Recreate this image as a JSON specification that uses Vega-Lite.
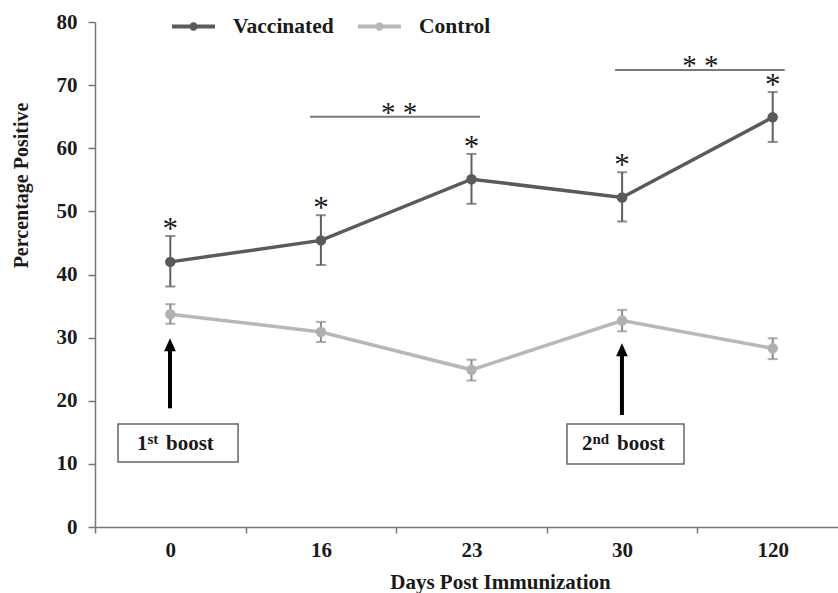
{
  "$schema": "https://vega.github.io/schema/vega-lite/v6.json",
  "width": 743,
  "height": 505,
  "autosize": {"type": "none"},
  "padding": {"left": 95, "top": 22, "right": 0, "bottom": 66},
  "background": "white",
  "config": {"view": {"stroke": null}, "font": "Liberation Serif"},
  "datasets": {
    "main": [
      {"day": 0, "group": "Vaccinated", "mean": 42.0, "lo": 38.1, "hi": 46.1},
      {"day": 16, "group": "Vaccinated", "mean": 45.4, "lo": 41.5, "hi": 49.4},
      {"day": 23, "group": "Vaccinated", "mean": 55.1, "lo": 51.2, "hi": 59.1},
      {"day": 30, "group": "Vaccinated", "mean": 52.2, "lo": 48.4, "hi": 56.2},
      {"day": 120, "group": "Vaccinated", "mean": 64.9, "lo": 61.0, "hi": 68.9},
      {"day": 0, "group": "Control", "mean": 33.7, "lo": 32.2, "hi": 35.3},
      {"day": 16, "group": "Control", "mean": 30.9, "lo": 29.3, "hi": 32.5},
      {"day": 23, "group": "Control", "mean": 24.9, "lo": 23.2, "hi": 26.5},
      {"day": 30, "group": "Control", "mean": 32.7, "lo": 31.0, "hi": 34.4},
      {"day": 120, "group": "Control", "mean": 28.3, "lo": 26.6, "hi": 29.9}
    ],
    "sig": [
      {"x1": 1.428, "x2": 2.556, "xm": 2.02, "y": 65.0},
      {"x1": 3.453, "x2": 4.58, "xm": 4.02, "y": 72.4}
    ],
    "arrows": [
      {"x": 0.498, "y1": 18.8, "y2": 28.86},
      {"x": 3.499, "y1": 17.74, "y2": 28.07}
    ],
    "boxes": [
      {"x1": 0.153, "x2": 0.95, "y1": 10.3, "y2": 16.32},
      {"x1": 3.134, "x2": 3.911, "y1": 10.0, "y2": 16.32}
    ],
    "boxtext": [
      {"x": 0.2789, "y": 12.2, "t": "1", "k": "main"},
      {"x": 0.3486, "y": 13.1, "t": "st", "k": "sup"},
      {"x": 0.4714, "y": 12.2, "t": "boost", "k": "main"},
      {"x": 3.2337, "y": 12.2, "t": "2", "k": "main"},
      {"x": 3.3035, "y": 13.1, "t": "nd", "k": "sup"},
      {"x": 3.4661, "y": 12.2, "t": "boost", "k": "main"}
    ]
  },
  "layer": [
    {
      "data": {"name": "main"},
      "layer": [
        {
          "mark": {"type": "rule", "strokeWidth": 2},
          "encoding": {
            "x": {"field": "day", "type": "ordinal", "scale": {"type": "band", "range": [0, 753], "paddingInner": 0, "paddingOuter": 0},
              "axis": {"title": "Days Post Immunization", "titleFont": "Liberation Serif", "titleFontSize": 21, "titleFontWeight": "bold", "titleColor": "#1a1a1a", "titleX": 405, "titleY": 61, "titleBaseline": "alphabetic",
                "labelAngle": 0, "labelFont": "Liberation Serif", "labelFontSize": 21, "labelFontWeight": "bold", "labelColor": "#1a1a1a", "labelPadding": 6,
                "tickBand": "extent", "tickSize": 6, "tickColor": "#777777", "tickWidth": 1.5, "domainColor": "#777777", "domainWidth": 1.5, "grid": false}},
            "y": {"field": "lo", "type": "quantitative", "scale": {"domain": [0, 80], "nice": false},
              "axis": {"title": "Percentage Positive", "titleFont": "Liberation Serif", "titleFontSize": 20, "titleFontWeight": "bold", "titleColor": "#1a1a1a", "titleX": -68, "titleY": 163, "titleBaseline": "alphabetic",
                "values": [0, 10, 20, 30, 40, 50, 60, 70, 80], "labelFont": "Liberation Serif", "labelFontSize": 21, "labelFontWeight": "bold", "labelColor": "#1a1a1a", "labelPadding": 11,
                "tickSize": 7, "tickColor": "#777777", "tickWidth": 1.5, "domainColor": "#777777", "domainWidth": 1.5, "grid": false}},
            "y2": {"field": "hi"},
            "color": {"condition": {"test": "datum.group === 'Vaccinated'", "value": "#606060"}, "value": "#8a8a8a"}
          }
        },
        {
          "mark": {"type": "tick", "orient": "horizontal", "size": 10, "thickness": 2},
          "encoding": {
            "x": {"field": "day", "type": "ordinal"},
            "y": {"field": "lo", "type": "quantitative"},
            "color": {"condition": {"test": "datum.group === 'Vaccinated'", "value": "#606060"}, "value": "#8a8a8a"}
          }
        },
        {
          "mark": {"type": "tick", "orient": "horizontal", "size": 10, "thickness": 2},
          "encoding": {
            "x": {"field": "day", "type": "ordinal"},
            "y": {"field": "hi", "type": "quantitative"},
            "color": {"condition": {"test": "datum.group === 'Vaccinated'", "value": "#606060"}, "value": "#8a8a8a"}
          }
        },
        {
          "mark": {"type": "line", "strokeWidth": 3.5},
          "encoding": {
            "x": {"field": "day", "type": "ordinal"},
            "y": {"field": "mean", "type": "quantitative"},
            "color": {"field": "group", "type": "nominal",
              "scale": {"domain": ["Vaccinated", "Control"], "range": ["#5a5a5a", "#b8b8b8"]},
              "legend": {"title": null, "orient": "none", "legendX": 75, "legendY": -19, "direction": "horizontal", "padding": 0,
                "symbolType": "M-1,0H1M0.1,0A0.1,0.1,0,1,1,-0.1,0A0.1,0.1,0,1,1,0.1,0", "symbolSize": 1849, "symbolStrokeWidth": 4,
                "labelFont": "Liberation Serif", "labelFontSize": 21.5, "labelFontWeight": "bold", "labelColor": "#1a1a1a", "labelOffset": 16, "columnPadding": 16}}
          }
        },
        {
          "mark": {"type": "point", "filled": true, "size": 110, "opacity": 1},
          "encoding": {
            "x": {"field": "day", "type": "ordinal"},
            "y": {"field": "mean", "type": "quantitative"},
            "color": {"condition": {"test": "datum.group === 'Vaccinated'", "value": "#5a5a5a"}, "value": "#b0b0b0"}
          }
        },
        {
          "transform": [{"filter": "datum.group === 'Vaccinated'"}],
          "mark": {"type": "text", "text": "*", "font": "Liberation Serif", "fontSize": 31, "baseline": "alphabetic", "dy": 3, "color": "#1a1a1a"},
          "encoding": {
            "x": {"field": "day", "type": "ordinal"},
            "y": {"field": "hi", "type": "quantitative"}
          }
        }
      ]
    },
    {
      "layer": [
        {
          "data": {"name": "sig"},
          "mark": {"type": "rule", "strokeWidth": 2, "color": "#7a7a7a"},
          "encoding": {
            "x": {"field": "x1", "type": "quantitative", "scale": {"domain": [0, 5], "range": [0, 753], "nice": false, "zero": false}, "axis": null},
            "x2": {"field": "x2"},
            "y": {"field": "y", "type": "quantitative"}
          }
        },
        {
          "data": {"name": "sig"},
          "mark": {"type": "text", "text": "* *", "font": "Liberation Serif", "fontSize": 29, "baseline": "alphabetic", "dy": 5.5, "color": "#1a1a1a"},
          "encoding": {
            "x": {"field": "xm", "type": "quantitative"},
            "y": {"field": "y", "type": "quantitative"}
          }
        },
        {
          "data": {"name": "arrows"},
          "mark": {"type": "rule", "strokeWidth": 4, "color": "black"},
          "encoding": {
            "x": {"field": "x", "type": "quantitative"},
            "y": {"field": "y1", "type": "quantitative"},
            "y2": {"field": "y2"}
          }
        },
        {
          "data": {"name": "arrows"},
          "mark": {"type": "point", "shape": "M0,-1L-0.9,1L0.9,1Z", "size": 169, "filled": true, "color": "black", "opacity": 1},
          "encoding": {
            "x": {"field": "x", "type": "quantitative"},
            "y": {"field": "y2", "type": "quantitative"}
          }
        },
        {
          "data": {"name": "boxes"},
          "mark": {"type": "rect", "fill": "white", "stroke": "#666666", "strokeWidth": 1.5},
          "encoding": {
            "x": {"field": "x1", "type": "quantitative"},
            "x2": {"field": "x2"},
            "y": {"field": "y1", "type": "quantitative"},
            "y2": {"field": "y2"}
          }
        },
        {
          "data": {"name": "boxtext"},
          "transform": [{"filter": "datum.k === 'main'"}],
          "mark": {"type": "text", "font": "Liberation Serif", "fontSize": 21, "fontWeight": "bold", "align": "left", "baseline": "alphabetic", "color": "#1a1a1a"},
          "encoding": {
            "x": {"field": "x", "type": "quantitative"},
            "y": {"field": "y", "type": "quantitative"},
            "text": {"field": "t"}
          }
        },
        {
          "data": {"name": "boxtext"},
          "transform": [{"filter": "datum.k === 'sup'"}],
          "mark": {"type": "text", "font": "Liberation Serif", "fontSize": 15, "fontWeight": "bold", "align": "left", "baseline": "alphabetic", "color": "#1a1a1a"},
          "encoding": {
            "x": {"field": "x", "type": "quantitative"},
            "y": {"field": "y", "type": "quantitative"},
            "text": {"field": "t"}
          }
        }
      ]
    }
  ],
  "resolve": {"scale": {"x": "independent"}, "axis": {"x": "independent"}}
}
